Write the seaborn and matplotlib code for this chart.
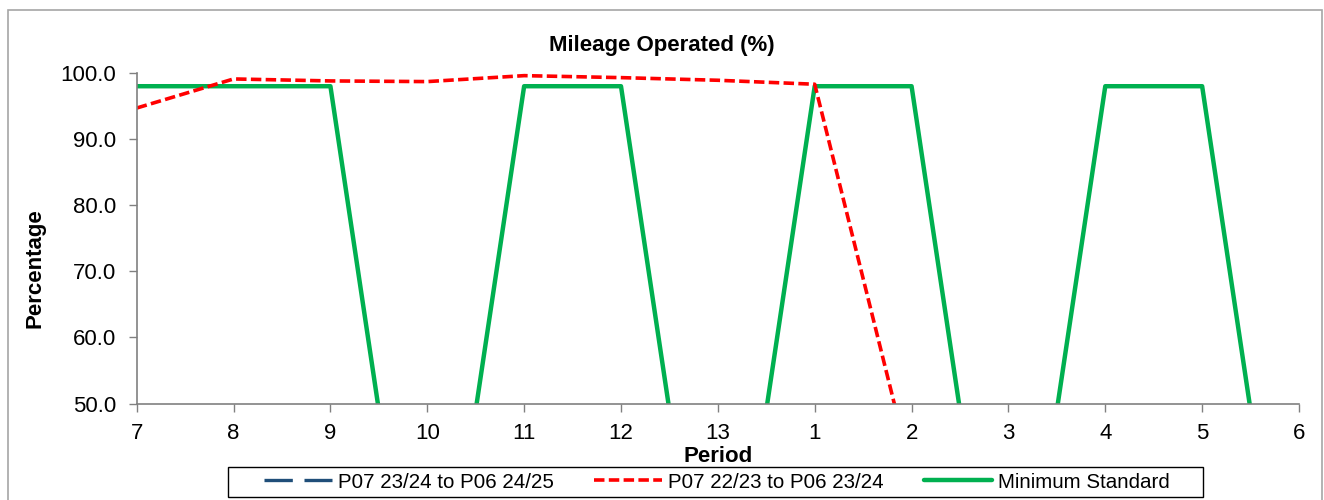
import numpy as np
import matplotlib
matplotlib.use('Agg')
import matplotlib.pyplot as plt
import seaborn as sns
from matplotlib.lines import Line2D
from matplotlib.patches import Rectangle

periods = ['7', '8', '9', '10', '11', '12', '13', '1', '2', '3', '4', '5', '6']
current_year = [np.nan] * 13  # P07 23/24 to P06 24/25 (no visible data)
previous_year = [94.7, 99.1, 98.8, 98.7, 99.6, 99.3, 98.9, 98.3, 39.5,
                 np.nan, np.nan, np.nan, np.nan]  # P07 22/23 to P06 23/24
minimum_standard = [98, 98, 98, 0, 98, 98, 0, 98, 98, 0, 98, 98, 0]

sns.set_style('white')
plt.rcParams['font.family'] = ['Liberation Sans', 'DejaVu Sans']
plt.rcParams['text.color'] = 'black'

fig = plt.figure(figsize=(13.24, 5), dpi=100)
ax = fig.add_axes([136.7 / 1324, 1 - 403.5 / 500, (1299 - 136.7) / 1324, (403.5 - 73) / 500])

x = np.arange(len(periods))

sns.lineplot(x=x, y=minimum_standard, ax=ax, color='#00b050', linewidth=3.2)
sns.lineplot(x=x, y=previous_year, ax=ax, color='#ff0000', linewidth=2.6)
ax.lines[-1].set_dashes((2.9, 1.2))
if not np.all(np.isnan(current_year)):
    sns.lineplot(x=x, y=current_year, ax=ax, color='#1f4e79', linewidth=2.4)

ax.set_xlim(0, len(periods) - 1)
ax.set_ylim(50, 100)
ax.set_xticks(x)
ax.set_xticklabels(periods)
ax.set_yticks(np.arange(50, 101, 10))
ax.set_yticklabels([f'{v:.1f}' for v in np.arange(50, 101, 10)])
ax.tick_params(axis='both', direction='out', length=6, width=1, color='#808080',
               labelsize=16, labelcolor='black', bottom=True, left=True)
ax.tick_params(axis='y', pad=9)
ax.tick_params(axis='x', pad=8)
for side in ['top', 'right']:
    ax.spines[side].set_visible(False)
for side in ['left', 'bottom']:
    ax.spines[side].set_color('#808080')
    ax.spines[side].set_linewidth(1.2)
ax.set_xlabel('')
ax.set_ylabel('')

fig.text(0.5, 1 - 45 / 500, 'Mileage Operated (%)', ha='center', va='center',
         fontsize=16, fontweight='bold', color='black')
fig.text(35 / 1324, 1 - 268 / 500, 'Percentage', ha='center', va='center',
         rotation=90, fontsize=16, fontweight='bold', color='black')
fig.text(718 / 1324, 1 - 457 / 500, 'Period', ha='center', va='center',
         fontsize=16, fontweight='bold', color='black')

handles = [
    Line2D([], [], color='#1f4e79', linewidth=2.4, dashes=(8.5, 3.5)),
    Line2D([], [], color='#ff0000', linewidth=2.6, dashes=(2.9, 1.2)),
    Line2D([], [], color='#00b050', linewidth=3.2),
]
labels = ['P07 23/24 to P06 24/25', 'P07 22/23 to P06 23/24', 'Minimum Standard']
leg = fig.legend(handles, labels, loc='center', bbox_to_anchor=(717 / 1324, 1 - 482 / 500),
                 ncol=3, frameon=False, fontsize=14.8, handlelength=3.3,
                 handletextpad=0.3, columnspacing=1.95, borderpad=0.2)
for t in leg.get_texts():
    t.set_color('black')
fig.patches.append(Rectangle((228 / 1324, 1 - 497 / 500), (1203 - 228) / 1324, 30 / 500,
                             transform=fig.transFigure, fill=False,
                             edgecolor='black', linewidth=1.0))
fig.patches.append(Rectangle((8 / 1324, -0.02), (1322 - 8) / 1324, 1 - 10 / 500 + 0.02,
                             transform=fig.transFigure, fill=False,
                             edgecolor='#a6a6a6', linewidth=1.2))

fig.savefig('out.png', dpi=100)
